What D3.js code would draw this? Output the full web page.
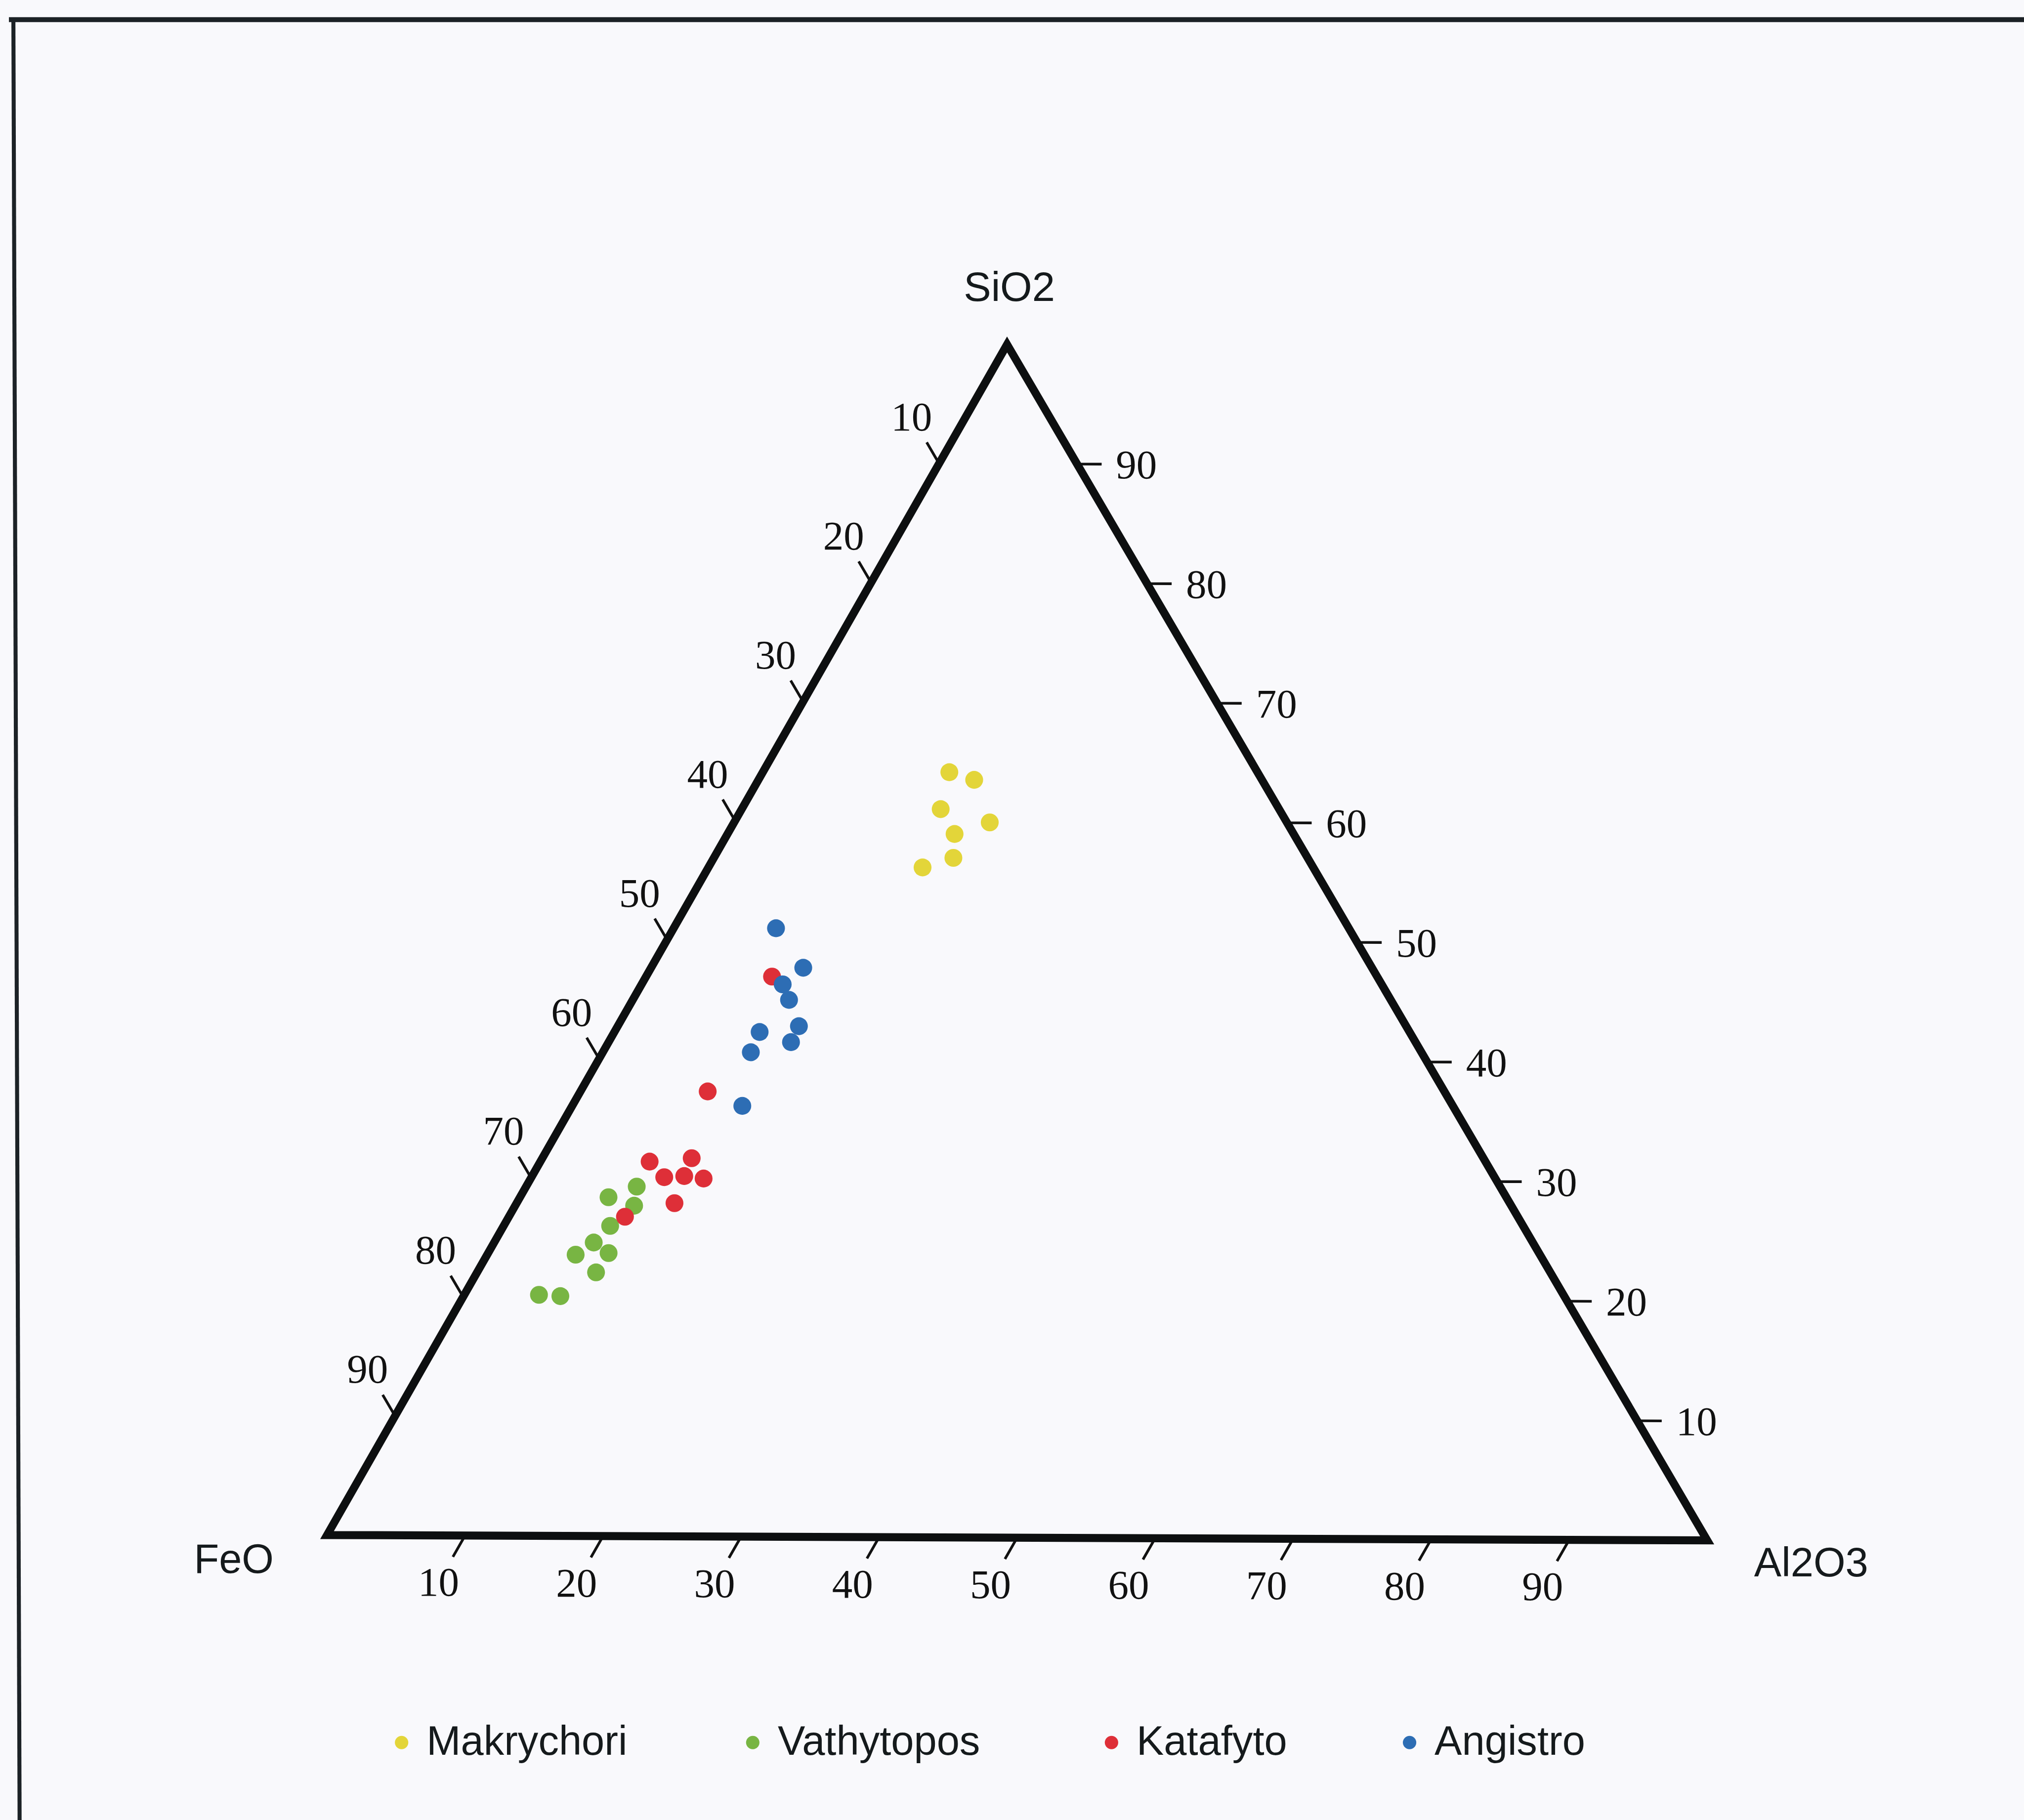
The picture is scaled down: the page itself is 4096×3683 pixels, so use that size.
<!DOCTYPE html>
<html>
<head>
<meta charset="utf-8">
<script src="https://cdn.jsdelivr.net/npm/d3@7"></script>
<style>
  html, body { margin: 0; padding: 0; background: #f9f9fc; }
  svg { display: block; }
</style>
</head>
<body>
<svg id="chart" width="4096" height="3683"></svg>
<script>
// ---- data -------------------------------------------------------------
const seriesNames  = ["Makrychori", "Vathytopos", "Katafyto", "Angistro"];
const seriesColors = ["#e3d539", "#78b543", "#de2f38", "#2d6db4"];

// compositions in wt% (SiO2, FeO, Al2O3)
const makrychoriSiO2  = [64.2, 63.5, 61.1, 60.0, 58.9, 56.9, 56.2];
const makrychoriFeO   = [22.4, 20.9, 24.6, 21.6, 24.6, 25.7, 28.4];
const makrychoriAl2O3 = [13.5, 15.6, 14.4, 18.5, 16.4, 17.3, 15.5];

const vathytoposSiO2  = [29.3, 28.4, 27.7, 26.0, 24.6, 23.7, 22.1, 23.6, 20.2, 20.1];
const vathytoposFeO   = [62.7, 65.2, 63.7, 66.3, 68.2, 67.5, 69.3, 70.1, 74.4, 72.9];
const vathytoposAl2O3 = [8.0, 6.4, 8.6, 7.7, 7.2, 8.7, 8.6, 6.4, 5.4, 7.0];

const katafytoSiO2  = [46.9, 37.3, 31.4, 31.7, 30.1, 30.2, 30.0, 27.9, 26.8];
const katafytoFeO   = [43.9, 53.5, 60.7, 57.5, 60.3, 58.8, 57.5, 60.6, 64.9];
const katafytoAl2O3 = [9.1, 9.2, 7.9, 10.8, 9.6, 11.0, 12.5, 11.4, 8.4];

const angistroSiO2  = [51.0, 47.7, 46.3, 45.0, 42.3, 42.8, 41.5, 40.6, 36.1];
const angistroFeO   = [41.6, 41.3, 43.5, 43.7, 47.2, 44.1, 45.4, 48.7, 51.6];
const angistroAl2O3 = [7.4, 11.0, 10.2, 11.3, 10.5, 13.1, 13.2, 10.7, 12.3];

const axisTicks = [10, 20, 30, 40, 50, 60, 70, 80, 90];
const apexLabels = ["SiO2", "FeO", "Al2O3"];

// ---- layout -----------------------------------------------------------
const k = 4096 / 4536;                 // drawing units -> screen pixels
const vSi = [2257, 772];               // SiO2 apex
const vFe = [733, 3440];               // FeO corner
const vAl = [3826, 3452];              // Al2O3 corner

const svg = d3.select("#chart");
const g = svg.append("g").attr("transform", `scale(${k})`);

// fraction scale for percentages
const pct = d3.scaleLinear().domain([0, 100]).range([0, 1]);

// barycentric projection of a (SiO2, FeO, Al2O3) composition
function project(si, fe, al) {
  const t = si + fe + al;
  const a = pct(100 * si / t), b = pct(100 * fe / t), c = pct(100 * al / t);
  return [a * vSi[0] + b * vFe[0] + c * vAl[0],
          a * vSi[1] + b * vFe[1] + c * vAl[1]];
}
function unit(p, q) {
  const dx = p[0] - q[0], dy = p[1] - q[1], l = Math.hypot(dx, dy);
  return [dx / l, dy / l];
}

// ---- page frame -------------------------------------------------------
g.append("line").attr("x1", 20).attr("y1", 44).attr("x2", 4600).attr("y2", 44)
  .attr("stroke", "#1c2226").attr("stroke-width", 11);
g.append("line").attr("x1", 30).attr("y1", 40).attr("x2", 44).attr("y2", 4100)
  .attr("stroke", "#1c2226").attr("stroke-width", 9);

// ---- axes ticks -------------------------------------------------------
const tickLen = 55;
const axes = [
  { // FeO along the left edge
    pos: v => project(100 - v, v, 0), dir: unit(vSi, vAl), labelDist: 122
  },
  { // Al2O3 along the bottom edge
    pos: v => project(0, 100 - v, v), dir: unit(vFe, vSi), labelDist: 120
  },
  { // SiO2 along the right edge
    pos: v => project(v, 0, 100 - v), dir: unit(vAl, vFe), labelDist: 133
  }
];

axes.forEach(ax => {
  const grp = g.append("g");
  grp.selectAll("line").data(axisTicks).join("line")
    .attr("x1", v => ax.pos(v)[0])
    .attr("y1", v => ax.pos(v)[1])
    .attr("x2", v => ax.pos(v)[0] + ax.dir[0] * tickLen)
    .attr("y2", v => ax.pos(v)[1] + ax.dir[1] * tickLen)
    .attr("stroke", "#111").attr("stroke-width", 6);
  grp.selectAll("text").data(axisTicks).join("text")
    .attr("x", v => ax.pos(v)[0] + ax.dir[0] * ax.labelDist)
    .attr("y", v => ax.pos(v)[1] + ax.dir[1] * ax.labelDist)
    .attr("text-anchor", "middle")
    .attr("dominant-baseline", "central")
    .attr("font-family", "'Liberation Serif', 'Times New Roman', serif")
    .attr("font-size", 92)
    .attr("fill", "#111")
    .text(v => v);
});

// ---- triangle outline -------------------------------------------------
g.append("path")
  .attr("d", d3.line()([vSi, vFe, vAl]) + "Z")
  .attr("fill", "none")
  .attr("stroke", "#0d0f10")
  .attr("stroke-width", 18)
  .attr("stroke-linejoin", "miter");

// ---- apex labels ------------------------------------------------------
const apexPos = [[2262, 674], [524, 3525], [4059, 3533]];
g.selectAll("text.apex").data(apexLabels).join("text")
  .attr("class", "apex")
  .attr("x", (d, i) => apexPos[i][0])
  .attr("y", (d, i) => apexPos[i][1])
  .attr("text-anchor", "middle")
  .attr("font-family", "'Liberation Sans', Arial, sans-serif")
  .attr("font-size", 92)
  .attr("fill", "#151a1c")
  .text(d => d);

// ---- samples ----------------------------------------------------------
const seriesData = [
  [makrychoriSiO2, makrychoriFeO, makrychoriAl2O3],
  [vathytoposSiO2, vathytoposFeO, vathytoposAl2O3],
  [katafytoSiO2, katafytoFeO, katafytoAl2O3],
  [angistroSiO2, angistroFeO, angistroAl2O3]
];

seriesData.forEach((cols, si) => {
  const pts = cols[0].map((s, i) => project(s, cols[1][i], cols[2][i]));
  g.append("g").selectAll("circle").data(pts).join("circle")
    .attr("cx", d => d[0]).attr("cy", d => d[1])
    .attr("r", 20)
    .attr("fill", seriesColors[si]);
});

// ---- legend -----------------------------------------------------------
const legendDotX = [900, 1687, 2491, 3159];
const legendY = 3905;
const legend = g.append("g").selectAll("g").data(seriesNames).join("g");
legend.append("circle")
  .attr("cx", (d, i) => legendDotX[i]).attr("cy", legendY)
  .attr("r", 15).attr("fill", (d, i) => seriesColors[i]);
legend.append("text")
  .attr("x", (d, i) => legendDotX[i] + 56)
  .attr("y", legendY + 28)
  .attr("font-family", "'Liberation Sans', Arial, sans-serif")
  .attr("font-size", 92)
  .attr("fill", "#151a1c")
  .text(d => d);
</script>
</body>
</html>
